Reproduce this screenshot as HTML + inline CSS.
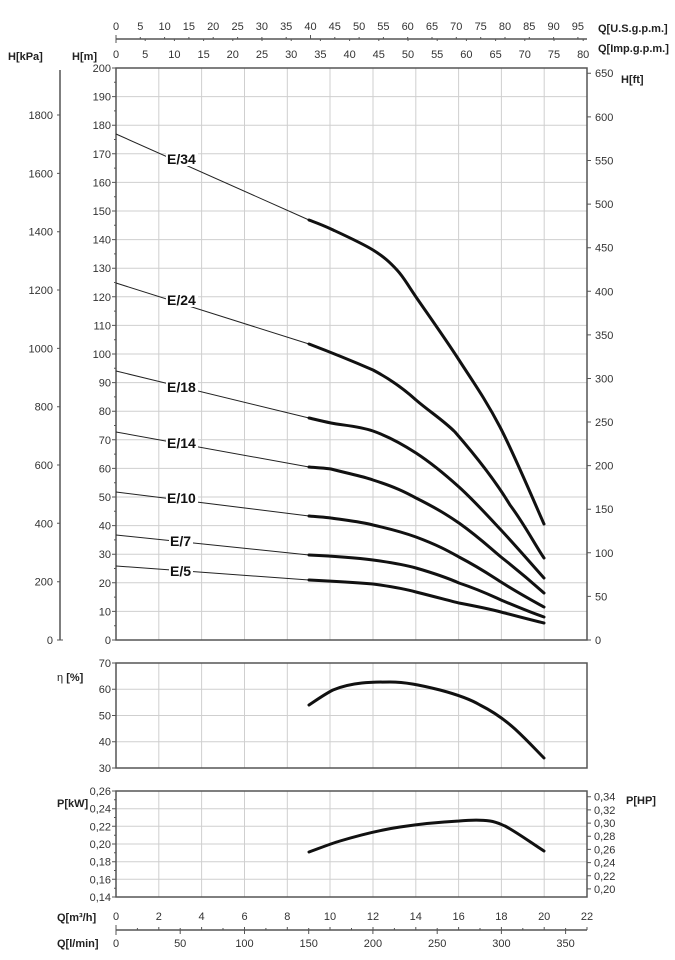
<!DOCTYPE html>
<html><head><meta charset="utf-8"><style>
body{margin:0;background:#fff}
svg{display:block;font-family:"Liberation Sans",Arial,sans-serif}
.t{font-size:11px;fill:#333}
.b{font-size:11px;font-weight:bold;fill:#222}
.g{stroke:#cfcfcf;stroke-width:1;fill:none}
.ax{stroke:#555;stroke-width:1.5;fill:none}
.tk{stroke:#555;stroke-width:1;fill:none}
.c{stroke:#111;stroke-width:3;fill:none;stroke-linecap:round;stroke-linejoin:round}
.th{stroke:#222;stroke-width:1;fill:none}
.lb{font-size:14px;font-weight:bold;fill:#111}
</style></head><body>
<svg width="675" height="960" viewBox="0 0 675 960">
<!-- top axes -->
<line class="ax" x1="116" y1="39" x2="587" y2="39"/>
<path class="tk" d="M116 35V39M140.3 37V39M164.6 37V39M188.9 37V39M213.2 37V39M237.6 37V39M261.9 37V39M286.2 37V39M310.5 35V39M334.8 37V39M359.1 37V39M383.4 37V39M407.7 37V39M432 37V39M456.3 37V39M480.7 37V39M505 37V39M529.3 37V39M553.6 37V39M577.9 37V39
M116 39V43M145.2 39V41M174.4 39V41M203.6 39V41M232.8 39V41M262 39V41M291.2 39V41M320.4 39V41M349.6 39V41M378.8 39V41M408 39V41M437.2 39V41M466.4 39V41M495.6 39V41M524.8 39V41M554 39V41M583.2 39V41"/>
<g class="t" text-anchor="middle">
<text x="116" y="30">0</text><text x="140.3" y="30">5</text><text x="164.6" y="30">10</text><text x="188.9" y="30">15</text><text x="213.2" y="30">20</text><text x="237.6" y="30">25</text><text x="261.9" y="30">30</text><text x="286.2" y="30">35</text><text x="310.5" y="30">40</text><text x="334.8" y="30">45</text><text x="359.1" y="30">50</text><text x="383.4" y="30">55</text><text x="407.7" y="30">60</text><text x="432" y="30">65</text><text x="456.3" y="30">70</text><text x="480.7" y="30">75</text><text x="505" y="30">80</text><text x="529.3" y="30">85</text><text x="553.6" y="30">90</text><text x="577.9" y="30">95</text>
<text x="116" y="58">0</text><text x="145.2" y="58">5</text><text x="174.4" y="58">10</text><text x="203.6" y="58">15</text><text x="232.8" y="58">20</text><text x="262" y="58">25</text><text x="291.2" y="58">30</text><text x="320.4" y="58">35</text><text x="349.6" y="58">40</text><text x="378.8" y="58">45</text><text x="408" y="58">50</text><text x="437.2" y="58">55</text><text x="466.4" y="58">60</text><text x="495.6" y="58">65</text><text x="524.8" y="58">70</text><text x="554" y="58">75</text><text x="583.2" y="58">80</text>
</g>
<text class="b" x="598" y="32">Q[U.S.g.p.m.]</text>
<text class="b" x="598" y="52">Q[Imp.g.p.m.]</text>
<text class="b" x="8" y="60">H[kPa]</text>
<text class="b" x="72" y="60">H[m]</text>
<text class="b" x="621" y="83">H[ft]</text>

<!-- main grid -->
<path class="g" d="M158.8 68V640M201.6 68V640M244.5 68V640M287.3 68V640M330 68V640M373 68V640M415.8 68V640M458.6 68V640M501.4 68V640M544.2 68V640
M116 96.6H587M116 125.2H587M116 153.8H587M116 182.4H587M116 211H587M116 239.6H587M116 268.2H587M116 296.8H587M116 325.4H587M116 354H587M116 382.6H587M116 411.2H587M116 439.8H587M116 468.4H587M116 497H587M116 525.6H587M116 554.2H587M116 582.8H587M116 611.4H587"/>
<rect class="ax" x="116" y="68" width="471" height="572"/>
<path class="tk" d="M112 68H116M112 96.6H116M112 125.2H116M112 153.8H116M112 182.4H116M112 211H116M112 239.6H116M112 268.2H116M112 296.8H116M112 325.4H116M112 354H116M112 382.6H116M112 411.2H116M112 439.8H116M112 468.4H116M112 497H116M112 525.6H116M112 554.2H116M112 582.8H116M112 611.4H116M112 640H116
M114 82.3H116M114 110.9H116M114 139.5H116M114 168.1H116M114 196.7H116M114 225.3H116M114 253.9H116M114 282.5H116M114 311.1H116M114 339.7H116M114 368.3H116M114 396.9H116M114 425.5H116M114 454.1H116M114 482.7H116M114 511.3H116M114 539.9H116M114 568.5H116M114 597.1H116M114 625.7H116"/>
<g class="t" text-anchor="end">
<text x="111" y="72">200</text><text x="111" y="100.6">190</text><text x="111" y="129.2">180</text><text x="111" y="157.8">170</text><text x="111" y="186.4">160</text><text x="111" y="215">150</text><text x="111" y="243.6">140</text><text x="111" y="272.2">130</text><text x="111" y="300.8">120</text><text x="111" y="329.4">110</text><text x="111" y="358">100</text><text x="111" y="386.6">90</text><text x="111" y="415.2">80</text><text x="111" y="443.8">70</text><text x="111" y="472.4">60</text><text x="111" y="501">50</text><text x="111" y="529.6">40</text><text x="111" y="558.2">30</text><text x="111" y="586.8">20</text><text x="111" y="615.4">10</text><text x="111" y="644">0</text>
</g>
<!-- kPa axis -->
<line class="ax" x1="60" y1="70" x2="60" y2="640"/>
<path class="tk" d="M57 115H60M57 173.4H60M57 231.7H60M57 290H60M57 348.4H60M57 406.7H60M57 465H60M57 523.3H60M57 581.7H60M57 640H63"/>
<g class="t" text-anchor="end">
<text x="53" y="119">1800</text><text x="53" y="177.4">1600</text><text x="53" y="235.7">1400</text><text x="53" y="294">1200</text><text x="53" y="352.4">1000</text><text x="53" y="410.7">800</text><text x="53" y="469">600</text><text x="53" y="527.3">400</text><text x="53" y="585.7">200</text><text x="53" y="644">0</text>
</g>
<!-- ft axis -->
<path class="tk" d="M587 73.3H591M587 116.9H591M587 160.5H591M587 204.1H591M587 247.7H591M587 291.3H591M587 334.9H591M587 378.5H591M587 422H591M587 465.6H591M587 509.2H591M587 552.8H591M587 596.4H591M587 640H591"/>
<g class="t">
<text x="595" y="77">650</text><text x="595" y="121">600</text><text x="595" y="164.5">550</text><text x="595" y="208">500</text><text x="595" y="251.7">450</text><text x="595" y="295.3">400</text><text x="595" y="339">350</text><text x="595" y="382.5">300</text><text x="595" y="426">250</text><text x="595" y="469.6">200</text><text x="595" y="513.2">150</text><text x="595" y="556.8">100</text><text x="595" y="600.4">50</text><text x="595" y="644">0</text>
</g>

<!-- thin extensions -->
<path class="th" d="M116 134L309 220M116 283L309 344M116 371L309 418M116 432L309 467M116 492L309 516M116 535L309 555M116 566L309 580"/>
<!-- curves -->
<path class="c" d="M309 220C312.7 221.5 320.3 224 331 229C341.7 234 362 243.2 373 250C384 256.8 389.8 262.2 397 270C404.2 277.8 405.7 282 416 297C426.3 312 445 338.3 459 360C473 381.7 485.8 399.7 500 427C514.2 454.3 536.7 507.8 544 524"/>
<path class="c" d="M309 344C330 352 350 360 373 370C390 379 405 390 416 400C430 412 443 420 455 432C475 455 495 480 510 505C525 525 535 545 544 558"/>
<path class="c" d="M309 418C312.7 418.8 320.3 420.8 331 423C341.7 425.2 358.8 426 373 431C387.2 436 401.7 443.7 416 453C430.3 462.3 444.8 474.2 459 487C473.2 499.8 486.8 514.8 501 530C515.2 545.2 536.8 570 544 578"/>
<path class="c" d="M309 467C320 468 326 468 331 469C350 474 362 476 373 480C395 487 405 492 416 498C440 510 450 517 459 523C480 538 490 548 501 557C520 572 535 585 544 593"/>
<path class="c" d="M309 516C320 517 325 517 331 518C352 521 362 522 373 525C395 530 405 533 416 537C440 546 450 552 459 557C480 568 490 575 501 582C520 594 535 602 544 607"/>
<path class="c" d="M309 555C330 556 350 557 373 560C395 563 405 565 416 568C440 575 450 579 459 583C480 590 490 595 501 600C520 608 535 614 544 617"/>
<path class="c" d="M309 580C330 581 350 582 373 584C395 587 405 589 416 592C440 598 450 601 459 603C480 607 490 609 501 612C520 617 535 621 544 623"/>
<!-- labels -->
<g class="lb">
<rect x="166" y="151" width="32" height="15" fill="#fff"/><text x="167" y="164">E/34</text>
<rect x="166" y="292" width="32" height="15" fill="#fff"/><text x="167" y="305">E/24</text>
<rect x="166" y="379" width="32" height="15" fill="#fff"/><text x="167" y="392">E/18</text>
<rect x="166" y="435" width="32" height="15" fill="#fff"/><text x="167" y="448">E/14</text>
<rect x="166" y="490" width="32" height="15" fill="#fff"/><text x="167" y="503">E/10</text>
<rect x="169" y="533" width="24" height="15" fill="#fff"/><text x="170" y="546">E/7</text>
<rect x="169" y="563" width="24" height="15" fill="#fff"/><text x="170" y="576">E/5</text>
</g>

<!-- efficiency panel -->
<path class="g" d="M158.8 663V768M201.6 663V768M244.5 663V768M287.3 663V768M330 663V768M373 663V768M415.8 663V768M458.6 663V768M501.4 663V768M544.2 663V768M116 689.25H587M116 715.5H587M116 741.75H587"/>
<rect class="ax" x="116" y="663" width="471" height="105"/>
<path class="tk" d="M112 663H116M112 689.25H116M112 715.5H116M112 741.75H116M112 768H116"/>
<g class="t" text-anchor="end">
<text x="111" y="667">70</text><text x="111" y="693">60</text><text x="111" y="719.5">50</text><text x="111" y="745.7">40</text><text x="111" y="772">30</text>
</g>
<text x="57" y="681" style="font-size:11px;fill:#222">η <tspan font-weight="bold">[%]</tspan></text>
<path class="c" d="M309 705C318 699 325 694 333 690C352 682 372 682 390 682C405 682 420 685 440 690C455 694 470 699 480 705C492 711 505 720 515 729C528 741 536 750 544 758"/>

<!-- power panel -->
<path class="g" d="M158.8 791V897M201.6 791V897M244.5 791V897M287.3 791V897M330 791V897M373 791V897M415.8 791V897M458.6 791V897M501.4 791V897M544.2 791V897M116 808.7H587M116 826.3H587M116 844H587M116 861.7H587M116 879.3H587"/>
<rect class="ax" x="116" y="791" width="471" height="106"/>
<path class="tk" d="M112 791H116M112 808.7H116M112 826.3H116M112 844H116M112 861.7H116M112 879.3H116M112 897H116M114 799.8H116M114 817.5H116M114 835.2H116M114 852.8H116M114 870.5H116M114 888.2H116"/>
<g class="t" text-anchor="end">
<text x="111" y="795">0,26</text><text x="111" y="812.7">0,24</text><text x="111" y="830.3">0,22</text><text x="111" y="848">0,20</text><text x="111" y="865.7">0,18</text><text x="111" y="883.3">0,16</text><text x="111" y="901">0,14</text>
</g>
<path class="tk" d="M587 796.7H591M587 809.9H591M587 823.1H591M587 836.2H591M587 849.4H591M587 862.6H591M587 875.8H591M587 888.9H591"/>
<g class="t">
<text x="594" y="800.7">0,34</text><text x="594" y="813.9">0,32</text><text x="594" y="827.1">0,30</text><text x="594" y="840.2">0,28</text><text x="594" y="853.4">0,26</text><text x="594" y="866.6">0,24</text><text x="594" y="879.8">0,22</text><text x="594" y="892.9">0,20</text>
</g>
<text class="b" x="57" y="807">P[kW]</text>
<text class="b" x="626" y="804">P[HP]</text>
<path class="c" d="M309 852C320 848 330 844 340 841C360 835 380 830 400 827C420 824 440 822 459 821C470 820 483 820 490 821C497 822 500 824 505 826C518 833 530 842 544 851"/>

<!-- bottom axes -->
<line class="ax" x1="116" y1="930" x2="587" y2="930"/>
<path class="tk" d="M116 925V930M137.4 928V930M158.8 927V930M180.2 928V930M201.6 927V930M223 928V930M244.5 927V930M265.9 928V930M287.3 927V930M308.7 928V930M330 927V930M351.5 928V930M373 927V930M394.4 928V930M415.8 927V930M437.2 928V930M458.6 927V930M480 928V930M501.4 927V930M522.8 928V930M544.2 927V930M565.6 928V930M587 927V930
M116 930V935M180.2 930V934M244.5 930V934M308.7 930V934M372.9 930V934M437.2 930V934M501.4 930V934M565.6 930V934"/>
<g class="t" text-anchor="middle">
<text x="116" y="920">0</text><text x="158.8" y="920">2</text><text x="201.6" y="920">4</text><text x="244.5" y="920">6</text><text x="287.3" y="920">8</text><text x="330" y="920">10</text><text x="373" y="920">12</text><text x="415.8" y="920">14</text><text x="458.6" y="920">16</text><text x="501.4" y="920">18</text><text x="544.2" y="920">20</text><text x="587" y="920">22</text>
<text x="116" y="947">0</text><text x="180.2" y="947">50</text><text x="244.5" y="947">100</text><text x="308.7" y="947">150</text><text x="372.9" y="947">200</text><text x="437.2" y="947">250</text><text x="501.4" y="947">300</text><text x="565.6" y="947">350</text>
</g>
<text class="b" x="57" y="921">Q[m³/h]</text>
<text class="b" x="57" y="947">Q[l/min]</text>
</svg>
</body></html>
